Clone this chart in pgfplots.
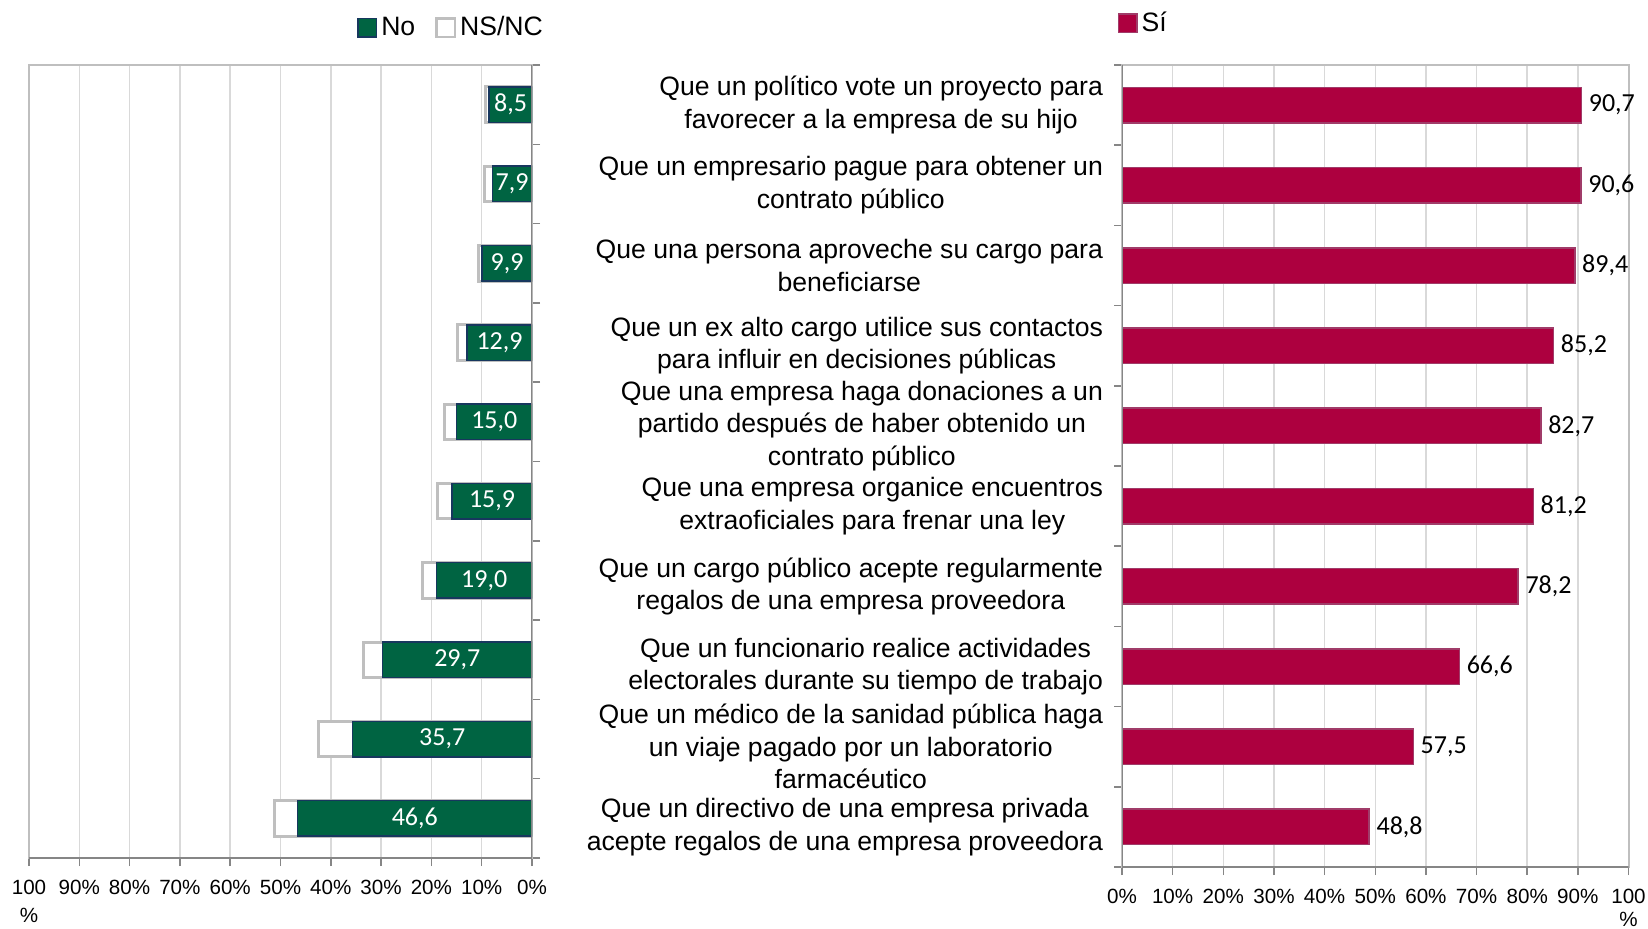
\documentclass[border=0pt]{standalone}
\usepackage{fontspec}
\setmainfont{Liberation Sans}
\newfontfamily\carlito{Carlito}
\usepackage{pgfplots}
\usepackage{pgfplotstable}
\pgfplotsset{compat=1.18}

\definecolor{nogreen}{RGB}{0,100,66}
\definecolor{noborder}{RGB}{23,55,94}
\definecolor{sired}{RGB}{173,0,63}
\definecolor{siborder}{RGB}{160,60,105}
\definecolor{nsborder}{RGB}{191,191,191}
\definecolor{gridgray}{RGB}{217,217,217}
\definecolor{framegray}{RGB}{191,191,191}
\definecolor{axisgray}{RGB}{134,134,134}

% fila, Si, No, NS/NC (%)
\pgfplotstableread{
row si no ns
1 90.7 8.5 0.8
2 90.6 7.9 1.5
3 89.4 9.9 0.7
4 85.2 12.9 1.9
5 82.7 15.0 2.3
6 81.2 15.9 2.9
7 78.2 19.0 2.8
8 66.6 29.7 3.7
9 57.5 35.7 6.8
10 48.8 46.6 4.6
}\datos

\pgfplotsset{
  encuesta/.style={
    scale only axis, enlargelimits=false,
    xmin=0, xmax=100, ymin=0.5, ymax=10.5, y dir=reverse,
    xtick={0,10,...,100},
    xmajorgrids, grid style={gridgray, line width=0.75pt},
    axis line style={framegray, line width=1pt},
    tick align=outside, major tick length=4pt,
    tick style={axisgray, line width=0.75pt},
    xtick pos=left,
    xticklabel style={font=\fontsize{10.3}{14}\selectfont, align=center, yshift=-3.5pt},
    legend style={draw=none, fill=none, inner sep=0pt,
      font=\fontsize{13.3}{16}\selectfont, legend columns=-1},
    legend image code/.code={\draw[#1] (0pt,-4.6pt) rectangle (9.2pt,4.6pt);},
  },
  barra/.style={xbar, bar width=17.75pt, bar shift=0pt, forget plot},
  etiqueta/.style={
    point meta=explicit,
    nodes near coords={\pgfmathprintnumber[fixed, fixed zerofill, precision=1,
      use comma, assume math mode=true]{\pgfplotspointmeta}},
  },
}

\begin{document}
\begin{tikzpicture}
\path[use as bounding box] (0,0) rectangle (824pt,-464pt);

% --- No / NS/NC ---
\begin{axis}[encuesta, at={(14.5pt,-32.5pt)}, anchor=north west,
  width=251.5pt, height=396.5pt, x dir=reverse,
  ytick={0.5,1.5,...,10.5}, yticklabels={}, ytick pos=right,
  xticklabels={0\%,10\%,20\%,30\%,40\%,50\%,60\%,70\%,80\%,90\%,{100\\\%}},
  legend style={at={(axis description cs:0.652,1.047)}, anchor=west,
    /tikz/every even column/.append style={column sep=8pt}},
]
\addlegendimage{fill=nogreen, draw=noborder, line width=0.75pt}
\addlegendentry{No}
\addlegendimage{fill=white, draw=nsborder, line width=1.2pt}
\addlegendentry{NS/NC}
\addplot[barra, fill=white, draw=nsborder, line width=1.5pt]
  table[x expr=\thisrow{no}+\thisrow{ns}, y=row] {\datos};
\addplot[barra, fill=nogreen, draw=noborder, line width=0.75pt]
  table[x=no, y=row] {\datos};
\addplot[forget plot, only marks, mark=*, mark size=0pt,
  mark options={draw=none, fill=none}, etiqueta,
  every node near coord/.append style={anchor=center, text=white,
    font=\carlito\fontsize{13}{13}\selectfont}]
  table[x expr=\thisrow{no}/2, y=row, meta=no] {\datos};
\draw[axisgray, line width=1pt] (axis description cs:1,0) -- (axis description cs:1,1);
\draw[axisgray, line width=1pt] (axis description cs:0,0) -- (axis description cs:1,0);
\end{axis}

% --- Si ---
\begin{axis}[encuesta, at={(561pt,-32.5pt)}, anchor=north west,
  width=253.25pt, height=401pt,
  ytick={0.5,1.5,...,10.5}, yticklabels={}, ytick pos=left,
  xticklabel style={font=\fontsize{10.3}{11.5}\selectfont},
  xticklabels={0\%,10\%,20\%,30\%,40\%,50\%,60\%,70\%,80\%,90\%,{100\\\%}},
  extra y ticks={1,2,...,10},
  extra y tick labels={
    {Que un político vote un proyecto para\\favorecer a la empresa de su hijo},
    {Que un empresario pague para obtener un\\contrato público},
    {Que una persona aproveche su cargo para\\beneficiarse},
    {Que un ex alto cargo utilice sus contactos\\para influir en decisiones públicas},
    {Que una empresa haga donaciones a un\\partido después de haber obtenido un\\contrato público},
    {Que una empresa organice encuentros\\extraoficiales para frenar una ley},
    {Que un cargo público acepte regularmente\\regalos de una empresa proveedora},
    {Que un funcionario realice actividades\\electorales durante su tiempo de trabajo},
    {Que un médico de la sanidad pública haga\\un viaje pagado por un laboratorio\\farmacéutico},
    {Que un directivo de una empresa privada\\acepte regalos de una empresa proveedora}},
  extra y tick style={tick style={draw=none},
    yticklabel style={font=\fontsize{13.3}{16.3}\selectfont, align=center,
      anchor=east, xshift=-2pt}},
  legend style={at={(axis description cs:-0.009,1.052)}, anchor=west},
]
\addlegendimage{fill=sired, draw=siborder, line width=0.75pt}
\addlegendentry{Sí}
\addplot[barra, fill=sired, draw=siborder, line width=0.75pt, etiqueta,
  every node near coord/.append style={anchor=west, text=black,
    font=\carlito\fontsize{13}{13}\selectfont}]
  table[x=si, y=row, meta=si] {\datos};
\draw[axisgray, line width=1pt] (axis description cs:0,0) -- (axis description cs:0,1);
\draw[axisgray, line width=1pt] (axis description cs:0,0) -- (axis description cs:1,0);
\end{axis}
\end{tikzpicture}
\end{document}
